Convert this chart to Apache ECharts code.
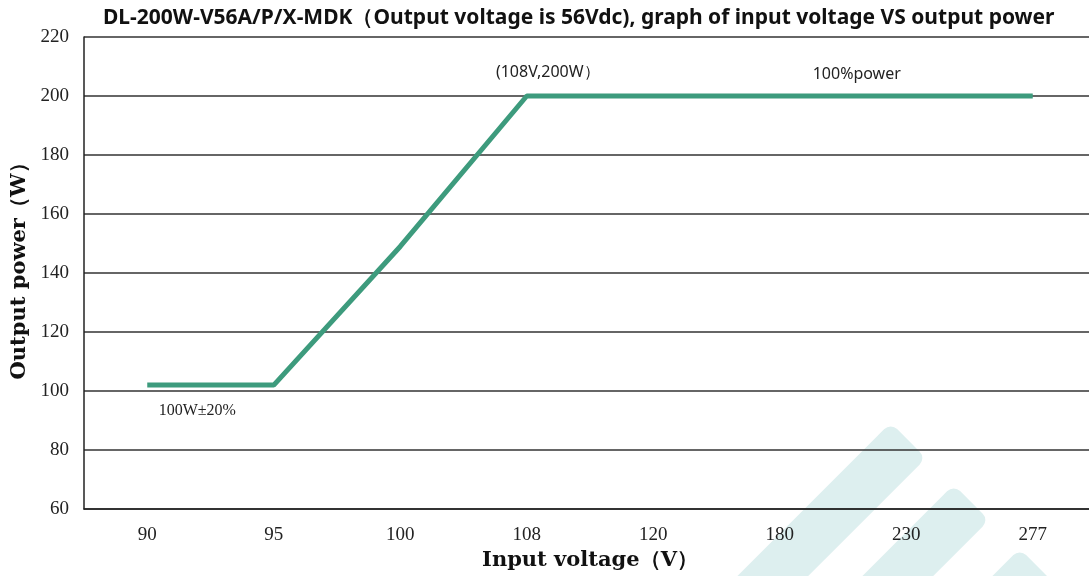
<!DOCTYPE html>
<html>
<head>
<meta charset="utf-8">
<script src="https://cdn.jsdelivr.net/npm/echarts@6/dist/echarts.min.js"></script>
<style>html,body{margin:0;padding:0;background:#fff}#c{width:1089px;height:576px}</style>
</head>
<body>
<div id="c"></div>
<script>
const titleText = 'DL-200W-V56A/P/X-MDK（Output voltage is 56Vdc), graph of input voltage VS output power';
const categories = ['90', '95', '100', '108', '120', '180', '230', '277'];
const outputPower = [102, 102, 149, 200, 200, 200, 200, 200];
const yTicks = { min: 60, max: 220, interval: 20 };
const annotations = [
  { cat: '108', value: 200, text: '(108V,200W）' },
  { cat: '180', value: 200, text: '100%power' },
  { cat: '90', value: 102, text: '100W±20%' }
];

const chart = echarts.init(document.getElementById('c'), null, { renderer: 'canvas' });
const serif = '"Liberation Serif", "DejaVu Serif", serif';
const wideSerif = '"DejaVu Serif", "Liberation Serif", serif';
const sans = '"Noto Sans", "Open Sans", sans-serif';

const labelOffsets = [[21, -24], [77, -22], [50, 26]];
const labelFonts = [
  { fontFamily: sans, fontSize: 16 },
  { fontFamily: sans, fontSize: 16 },
  { fontFamily: serif, fontSize: 16 }
];

const stripe = (cx, cy, len) => ({
  type: 'rect',
  x: cx, y: cy,
  rotation: -Math.PI / 4,
  shape: { x: -23, y: 0, width: 50, height: len, r: 9 },
  style: { fill: '#ddefef' },
  z: -10,
  silent: true
});

chart.setOption({
  backgroundColor: '#fff',
  animation: false,
  title: {
    text: titleText,
    left: 98, top: 3,
    textStyle: { fontFamily: sans, fontSize: 21, fontWeight: 'bold', color: '#111' }
  },
  graphic: [stripe(907, 439, 240), stripe(970, 501, 180), stripe(1036, 565, 100)],
  grid: { left: 84, right: -7, top: 37, bottom: 67, containLabel: false, outerBoundsMode: 'none' },
  xAxis: {
    type: 'category',
    data: categories,
    boundaryGap: true,
    name: 'Input voltage（V）',
    nameLocation: 'middle',
    nameGap: 39,
    nameTextStyle: { fontFamily: wideSerif, fontSize: 21, fontWeight: 'bold', color: '#111' },
    axisLine: { show: true, lineStyle: { color: '#222', width: 1.5 } },
    axisTick: { show: false },
    axisLabel: { margin: 17, fontFamily: serif, fontSize: 19, color: '#222' },
    splitLine: { show: false }
  },
  yAxis: {
    type: 'value',
    min: yTicks.min, max: yTicks.max, interval: yTicks.interval,
    name: 'Output power（W）',
    nameLocation: 'middle',
    nameGap: 53,
    nameTextStyle: { fontFamily: wideSerif, fontSize: 21, fontWeight: 'bold', color: '#111', padding: [0, 0, 0, 14] },
    axisLine: { show: true, lineStyle: { color: '#222', width: 1.5 } },
    axisTick: { show: false },
    axisLabel: { margin: 15, fontFamily: serif, fontSize: 19, color: '#222' },
    splitLine: { show: true, lineStyle: { color: '#333', width: 1.5 } }
  },
  series: [{
    type: 'line',
    data: outputPower,
    symbol: 'none',
    lineStyle: { color: '#3d9b7d', width: 5 },
    itemStyle: { color: '#3d9b7d' },
    z: 3,
    markPoint: {
      symbol: 'circle',
      symbolSize: 1,
      itemStyle: { color: 'rgba(0,0,0,0)' },
      data: annotations.map((a, i) => ({
        coord: [a.cat, a.value],
        label: Object.assign({
          show: true, position: 'inside', offset: labelOffsets[i],
          formatter: a.text, color: '#222'
        }, labelFonts[i])
      }))
    }
  }]
});
</script>
</body>
</html>
